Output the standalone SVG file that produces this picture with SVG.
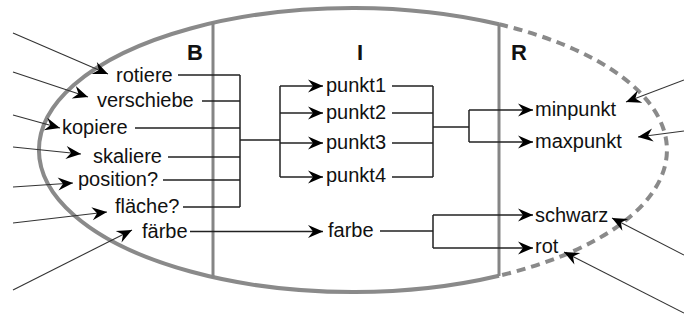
<svg xmlns="http://www.w3.org/2000/svg" width="684" height="320" viewBox="0 0 684 320">
  <style>
    .lbl { font-family: "Liberation Sans", Arial, sans-serif; font-size: 20px; fill: #111; }
    .hdr { font-family: "Liberation Sans", Arial, sans-serif; font-size: 22px; font-weight: bold; fill: #111; }
    .shell { fill: none; stroke: #8a8a8a; stroke-width: 4; }
    .dash { stroke-dasharray: 9 6; }
    .wall { stroke: #858585; stroke-width: 3; }
    .wire { fill: none; stroke: #222; stroke-width: 1.5; }
    .feed { fill: none; stroke: #333; stroke-width: 1.1; }
  </style>
  <defs>
    <marker id="head" markerUnits="userSpaceOnUse" markerWidth="18" markerHeight="16" viewBox="-16 -8 18 16" refX="0" refY="0" orient="auto">
      <path d="M0,0 L-15,-6.5 L-10,0 L-15,6.5 Z" fill="#000"/>
    </marker>
  </defs>

  <!-- object shell: solid on the left, dashed on the right -->
  <g id="shell">
    <path class="shell" d="M499,24.3 A314,142 0 1 0 499,275.7"/>
    <path class="shell dash" d="M499,24.3 A314,142 0 0 1 499,275.7"/>
    <line class="wall" x1="213" y1="22" x2="213" y2="278"/>
    <line class="wall" x1="499" y1="24" x2="499" y2="276"/>
  </g>

  <!-- section headers -->
  <g id="headers">
    <text class="hdr" x="187" y="60">B</text>
    <text class="hdr" x="360" y="60" text-anchor="middle">I</text>
    <text class="hdr" x="511" y="60">R</text>
  </g>

  <!-- behaviour operations -->
  <g id="rotiere"><text class="lbl" x="116" y="82">rotiere</text></g>
  <g id="verschiebe"><text class="lbl" x="97" y="107">verschiebe</text></g>
  <g id="kopiere"><text class="lbl" x="62" y="134">kopiere</text></g>
  <g id="skaliere"><text class="lbl" x="93" y="163">skaliere</text></g>
  <g id="position"><text class="lbl" x="78" y="186">position?</text></g>
  <g id="flaeche"><text class="lbl" x="115" y="213">fläche?</text></g>
  <g id="faerbe"><text class="lbl" x="142" y="238">färbe</text></g>

  <!-- internal state -->
  <g id="punkt1"><text class="lbl" x="326" y="92">punkt1</text></g>
  <g id="punkt2"><text class="lbl" x="326" y="119">punkt2</text></g>
  <g id="punkt3"><text class="lbl" x="326" y="149">punkt3</text></g>
  <g id="punkt4"><text class="lbl" x="326" y="182">punkt4</text></g>
  <g id="farbe"><text class="lbl" x="328" y="237">farbe</text></g>

  <!-- references -->
  <g id="minpunkt"><text class="lbl" x="535" y="116">minpunkt</text></g>
  <g id="maxpunkt"><text class="lbl" x="535" y="148">maxpunkt</text></g>
  <g id="schwarz"><text class="lbl" x="535" y="222">schwarz</text></g>
  <g id="rot"><text class="lbl" x="535" y="253">rot</text></g>

  <g id="connectors">
    <!-- operations gathered into one bus -->
    <path class="wire" d="M178,75 H240 M202,101 H240 M135,128 H240 M168,157 H240 M163,180 H240 M183,207 H240 M240,75 V207 M240,140 H280"/>
    <!-- bus fanned out to the points -->
    <path class="wire" d="M280,86 V177"/>
    <path class="wire" marker-end="url(#head)" d="M280,86 H323"/>
    <path class="wire" marker-end="url(#head)" d="M280,113 H323"/>
    <path class="wire" marker-end="url(#head)" d="M280,143 H323"/>
    <path class="wire" marker-end="url(#head)" d="M280,177 H323"/>
    <!-- points gathered to min/max -->
    <path class="wire" d="M392,86 H433 M392,113 H433 M392,143 H433 M392,177 H433 M433,86 V177 M433,127 H469 M469,110 V142"/>
    <path class="wire" marker-end="url(#head)" d="M469,110 H533"/>
    <path class="wire" marker-end="url(#head)" d="M469,142 H533"/>
    <!-- colour path -->
    <path class="wire" marker-end="url(#head)" d="M190,231.5 H323"/>
    <path class="wire" d="M380,231 H433 M433,215 V248"/>
    <path class="wire" marker-end="url(#head)" d="M433,215 H533"/>
    <path class="wire" marker-end="url(#head)" d="M433,248 H533"/>

    <!-- incoming messages from the left -->
    <path class="feed" marker-end="url(#head)" d="M13,33 L108,74"/>
    <path class="feed" marker-end="url(#head)" d="M13,72 L88,97"/>
    <path class="feed" marker-end="url(#head)" d="M13,115 L60,128"/>
    <path class="feed" marker-end="url(#head)" d="M13,147 L81,154"/>
    <path class="feed" marker-end="url(#head)" d="M13,187 L73,183"/>
    <path class="feed" marker-end="url(#head)" d="M13,223 L107,212"/>
    <path class="feed" marker-end="url(#head)" d="M13,290 L132,230"/>

    <!-- incoming messages from the right -->
    <path class="feed" marker-end="url(#head)" d="M684,80 L626,102"/>
    <path class="feed" marker-end="url(#head)" d="M684,131 L638,137"/>
    <path class="feed" marker-end="url(#head)" d="M684,255 L612,218"/>
    <path class="feed" marker-end="url(#head)" d="M684,313 L564,252"/>
  </g>
</svg>
